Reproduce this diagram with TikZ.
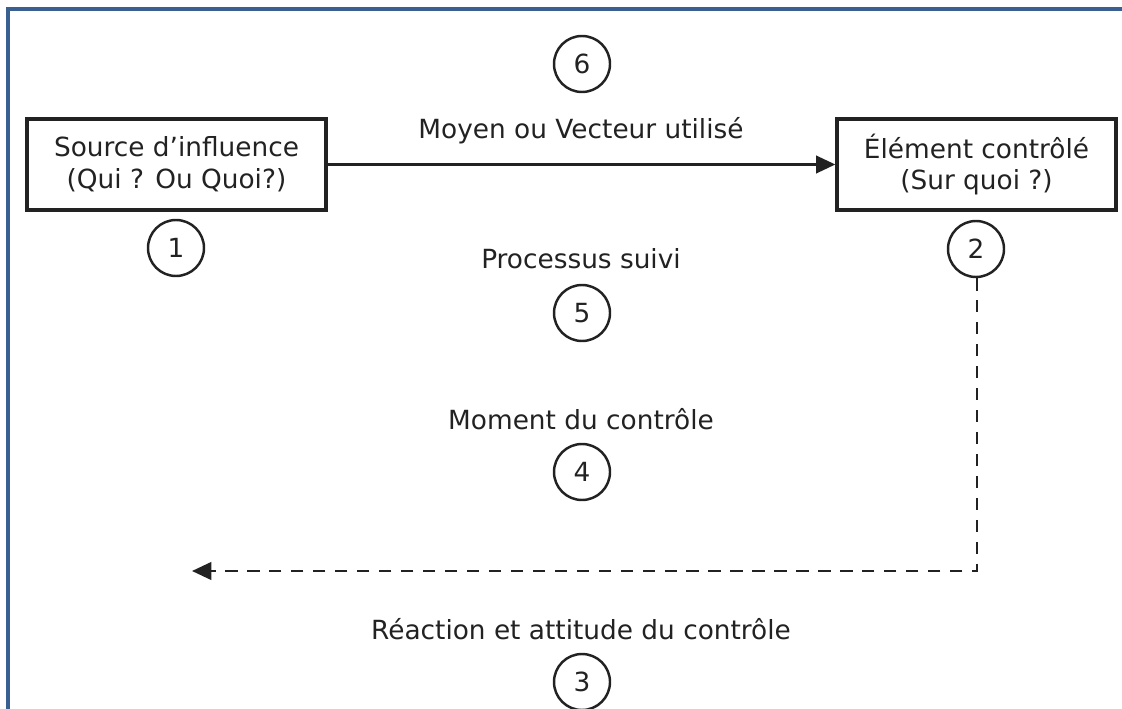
\documentclass[tikz,border=0pt]{standalone}
\usepackage{fontspec}
\setmainfont{DejaVu Sans}
\usetikzlibrary{arrows.meta}
\definecolor{framecol}{RGB}{58,96,145}
\definecolor{ink}{RGB}{34,34,34}
\begin{document}
\begin{tikzpicture}[x=0.02cm,y=-0.02cm,
  every node/.style={font=\fontsize{15}{18}\selectfont, text=ink},
  boxnode/.style={draw=ink, line width=1.9pt, minimum width=299*0.02cm, minimum height=91*0.02cm, align=center, inner sep=0pt},
  numcirc/.style={draw=ink, line width=1.4pt, circle, minimum size=56*0.02cm, inner sep=0pt},
  lbl/.style={align=center, inner sep=1pt},
  conn/.style={draw=ink, line width=1.4pt, -{Triangle[length=11pt,width=10pt]}},
  dconn/.style={conn, dash pattern=on 7pt off 5.5pt}
]
\useasboundingbox (0,0) rectangle (1122,709);
\draw[framecol, line width=1.9pt] (8,709) -- (8,9) -- (1122,9);

\node[boxnode] (src) at (176.5,164.5) {Source d’influence\\(Qui ? Ou Quoi?)};
\node[boxnode, minimum width=279*0.02cm] (elt) at (976.5,164.5) {Élément contrôlé\\(Sur quoi ?)};

\node[numcirc] (c6) at (582,64) {6};
\node[lbl] (l6) at (581,131) {Moyen ou Vecteur utilisé};
\node[numcirc] (c1) at (176,248) {1};
\node[numcirc] (c2) at (976,249) {2};
\node[lbl] (l5) at (581,259) {Processus suivi};
\node[numcirc] (c5) at (582,313) {5};
\node[lbl] (l4) at (581,419) {Moment du contrôle};
\node[numcirc] (c4) at (582,472) {4};
\node[lbl] (l3) at (581,629) {Réaction et attitude du contrôle};
\node[numcirc] (c3) at (582,682) {3};

\coordinate (corner) at (977,571);
\coordinate (dend) at (192,571);

\draw[conn] (src.east) -- (elt.west);
\draw[dconn] (c2.south -| corner) -- (corner) -- (dend);
\end{tikzpicture}
\end{document}
